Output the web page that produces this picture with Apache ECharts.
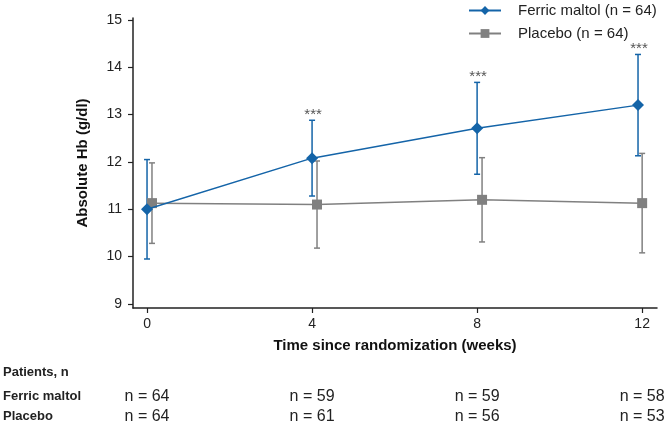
<!DOCTYPE html>
<html>
<head>
<meta charset="utf-8">
<script src="https://cdn.jsdelivr.net/npm/echarts@6/dist/echarts.min.js"></script>
<style>
html,body{margin:0;padding:0;background:#fff;}
#main{width:667px;height:425px;}
</style>
</head>
<body>
<div id="main"></div>
<script>
// ---- data ----
const weekTicks = [0, 4, 8, 12];
const yTicks = [9, 10, 11, 12, 13, 14, 15];
const seriesNames = ['Ferric maltol (n = 64)', 'Placebo (n = 64)'];
const ferricX = [0, 4, 8, 11.9];
const ferricMean = [11.0, 12.08, 12.71, 13.20];
const ferricSD = [1.05, 0.80, 0.97, 1.07];
const ferricSig = ['', '***', '***', '***'];
const placeboX = [0.12, 4.12, 8.12, 12];
const placeboMean = [11.13, 11.10, 11.20, 11.13];
const placeboSD = [0.85, 0.92, 0.89, 1.05];
const tableTitle = 'Patients, n';
const tableRows = ['Ferric maltol', 'Placebo'];
const ferricN = [64, 59, 59, 58];
const placeboN = [64, 61, 56, 53];

const BLUE = '#1464a8';
const GRAY = '#808080';
const AXIS = '#222222';

function errData(xs, means, sds, sig) {
  return xs.map((x, i) => [x, means[i] - sds[i], means[i] + sds[i], sig ? sig[i] : '']);
}

function errRender(color) {
  return function (params, api) {
    const x = api.value(0);
    const lo = api.coord([x, api.value(1)]);
    const hi = api.coord([x, api.value(2)]);
    const sig = api.value(3);
    const cap = 3;
    const style = { stroke: color, lineWidth: 1.5 };
    const children = [
      { type: 'line', shape: { x1: lo[0], y1: lo[1], x2: hi[0], y2: hi[1] }, style },
      { type: 'line', shape: { x1: hi[0] - cap, y1: hi[1], x2: hi[0] + cap, y2: hi[1] }, style },
      { type: 'line', shape: { x1: lo[0] - cap, y1: lo[1], x2: lo[0] + cap, y2: lo[1] }, style }
    ];
    if (sig && sig !== '-' && String(sig).length) {
      children.push({
        type: 'text',
        style: {
          text: String(sig), x: hi[0] + 1, y: hi[1] + 2,
          align: 'center', verticalAlign: 'bottom',
          fill: '#555', font: '15px "Liberation Sans", Arial, sans-serif'
        }
      });
    }
    return { type: 'group', children };
  };
}

const chart = echarts.init(document.getElementById('main'), null, { renderer: 'canvas' });

const option = {
  animation: false,
  backgroundColor: '#fff',
  textStyle: { fontFamily: '"Liberation Sans", Arial, sans-serif' },
  grid: { left: 133, right: 10, top: 18, bottom: 117, containLabel: false },
  legend: {
    orient: 'vertical',
    left: 468,
    top: 3,
    padding: 0,
    itemWidth: 32,
    itemHeight: 11,
    itemGap: 8,
    textStyle: { fontSize: 15, color: '#222', padding: [0, 0, 0, 12] },
    data: seriesNames
  },
  xAxis: {
    type: 'value',
    min: -0.34,
    max: 12.36,
    name: 'Time since randomization (weeks)',
    nameLocation: 'middle',
    nameGap: 30,
    nameTextStyle: { fontSize: 15, fontWeight: 'bold', color: '#111' },
    axisLine: { show: true, onZero: false, lineStyle: { color: AXIS, width: 1.5 } },
    axisTick: { show: true, length: 5, customValues: weekTicks, lineStyle: { color: AXIS, width: 1.2 } },
    axisLabel: { customValues: weekTicks, fontSize: 14, color: '#222', margin: 9 },
    splitLine: { show: false }
  },
  yAxis: {
    type: 'value',
    min: 8.915,
    max: 15.04,
    name: 'Absolute Hb (g/dl)',
    nameLocation: 'middle',
    nameGap: 43,
    nameTextStyle: { fontSize: 15, fontWeight: 'bold', color: '#111' },
    axisLine: { show: true, onZero: false, lineStyle: { color: AXIS, width: 1.5 } },
    axisTick: { show: true, length: 5, customValues: yTicks, lineStyle: { color: AXIS, width: 1.2 } },
    axisLabel: { customValues: yTicks, fontSize: 14, color: '#222', margin: 11 },
    splitLine: { show: false }
  },
  series: [
    {
      type: 'custom',
      name: 'ferricErr',
      renderItem: errRender(BLUE),
      data: errData(ferricX, ferricMean, ferricSD, ferricSig),
      encode: { x: 0, y: [1, 2] },
      z: 2,
      silent: true
    },
    {
      type: 'custom',
      name: 'placeboErr',
      renderItem: errRender(GRAY),
      data: errData(placeboX, placeboMean, placeboSD, null),
      encode: { x: 0, y: [1, 2] },
      z: 2,
      silent: true
    },
    {
      type: 'line',
      name: seriesNames[1],
      data: placeboX.map((x, i) => [x, placeboMean[i]]),
      symbol: 'rect',
      symbolSize: 10,
      showAllSymbol: true,
      itemStyle: { color: GRAY },
      lineStyle: { color: GRAY, width: 1.5 },
      z: 3
    },
    {
      type: 'line',
      name: seriesNames[0],
      data: ferricX.map((x, i) => [x, ferricMean[i]]),
      symbol: 'diamond',
      symbolSize: 12,
      showAllSymbol: true,
      itemStyle: { color: BLUE },
      lineStyle: { color: BLUE, width: 1.5 },
      z: 4
    }
  ]
};

chart.setOption(option);

// Patients table under the axis, columns aligned to the week ticks
const tableFont = '"Liberation Sans", Arial, sans-serif';
const rowY = [372, 397, 417];
const graphics = [
  { type: 'text', left: 3, top: rowY[0] - 6, style: { text: tableTitle, font: 'bold 13px ' + tableFont, fill: '#222' } },
  { type: 'text', left: 3, top: rowY[1] - 7, style: { text: tableRows[0], font: 'bold 13px ' + tableFont, fill: '#222' } },
  { type: 'text', left: 3, top: rowY[2] - 7, style: { text: tableRows[1], font: 'bold 13px ' + tableFont, fill: '#222' } }
];
weekTicks.forEach((w, i) => {
  const px = chart.convertToPixel({ xAxisIndex: 0 }, w);
  graphics.push({ type: 'text', x: px, y: rowY[1], style: { text: 'n = ' + ferricN[i], font: '16px ' + tableFont, fill: '#222', align: 'center', verticalAlign: 'middle' } });
  graphics.push({ type: 'text', x: px, y: rowY[2], style: { text: 'n = ' + placeboN[i], font: '16px ' + tableFont, fill: '#222', align: 'center', verticalAlign: 'middle' } });
});
chart.setOption({ graphic: graphics });
</script>
</body>
</html>
